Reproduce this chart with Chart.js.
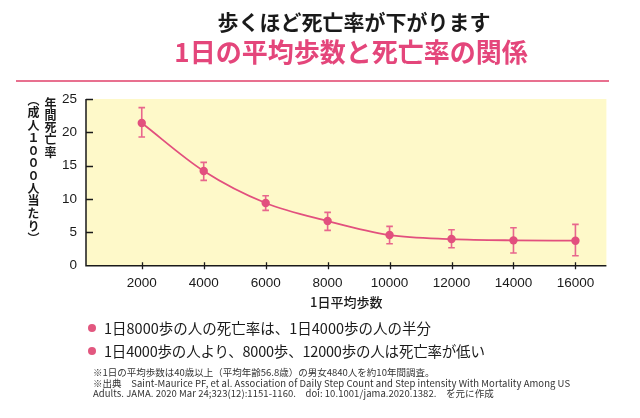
<!DOCTYPE html>
<html>
<head>
<meta charset="utf-8">
<script src="https://cdn.jsdelivr.net/npm/chart.js@4.4.1/dist/chart.umd.min.js"></script>
<style>
  html, body { margin: 0; padding: 0; background: #fff; }
  body { width: 640px; height: 418px; position: relative; overflow: hidden;
         font-family: "Noto Sans CJK JP", "Noto Sans", sans-serif; color: #1a1a1a; }
  #wrap { position: absolute; left: 0; top: 0; width: 640px; height: 418px; }
  .abs { position: absolute; white-space: nowrap; line-height: 1; }
  #t1 { left: 0; width: 708px; top: 11px; text-align: center; font-size: 21px; font-weight: 700; color: #1a1a1a; }
  #t2 { left: 0; width: 702px; top: 38px; text-align: center; font-size: 26px; font-weight: 700; color: #E4467B; }
  #sep { position: absolute; left: 16px; top: 80px; width: 593px; height: 2px; background: #E8708F; }
  .vt { writing-mode: vertical-rl; text-orientation: upright; font-size: 12px; font-weight: 700; line-height: 1; }
  #yt1 { left: 44px; top: 97px; letter-spacing: 0.3px; }
  #yt2 { left: 27px; top: 94px; letter-spacing: 0.6px; }
  .bl { font-size: 14.5px; color: #1a1a1a; }
  .dot { position: absolute; width: 8px; height: 8px; border-radius: 50%; background: #E2577F; }
  .nt { font-size: 9.5px; color: #333; }
</style>
</head>
<body>
<div id="wrap"><canvas id="c" width="640" height="418"></canvas></div>
<div class="abs" id="t1">歩くほど死亡率が下がります</div>
<div class="abs" id="t2">1日の平均歩数と死亡率の関係</div>
<div id="sep"></div>
<div class="abs vt" id="yt1">年間死亡率</div>
<div class="abs vt" id="yt2">（成人１０００人当たり）</div>
<div class="dot" style="left:88px; top:324px;"></div>
<div class="abs bl" style="left:104px; top:321px;">1日8000歩の人の死亡率は、1日4000歩の人の半分</div>
<div class="dot" style="left:88px; top:347px;"></div>
<div class="abs bl" style="left:104px; top:344px; letter-spacing:-0.2px;">1日4000歩の人より、8000歩、12000歩の人は死亡率が低い</div>
<div class="abs nt" style="left:93px; top:368px;">※1日の平均歩数は40歳以上（平均年齢56.8歳）の男女4840人を約10年間調査。</div>
<div class="abs nt" style="left:93px; top:379px; letter-spacing:0.05px;">※出典　Saint-Maurice PF, et al. Association of Daily Step Count and Step intensity With Mortality Among US</div>
<div class="abs nt" style="left:93px; top:389px; letter-spacing:0.05px;">Adults. JAMA. 2020 Mar 24;323(12):1151-1160.　doi: 10.1001/jama.2020.1382.　を元に作成</div>
<script>
// ---- data ----
const steps = [2000, 4000, 6000, 8000, 10000, 12000, 14000, 16000];
const deathRate = [21.4, 14.2, 9.4, 6.7, 4.6, 4.0, 3.8, 3.75];
const ciLower = [19.3, 12.8, 8.3, 5.3, 3.3, 2.7, 1.9, 1.5];
const ciUpper = [23.7, 15.5, 10.5, 8.0, 5.9, 5.4, 5.7, 6.2];
const xTickValues = [2000, 4000, 6000, 8000, 10000, 12000, 14000, 16000];
const yTickValues = [0, 5, 10, 15, 20, 25];

const PINK = '#E2507E';
const ERR = '#E8668D';
const BG = '#FEF9C9';
const AXIS = '#1a1a1a';

const bgPlugin = {
  id: 'bg',
  beforeDraw(chart) {
    const { ctx, chartArea: a } = chart;
    ctx.save();
    ctx.fillStyle = BG;
    ctx.fillRect(a.left, a.top, a.right - a.left, a.bottom - a.top);
    ctx.restore();
  }
};

const axesPlugin = {
  id: 'axesMarks',
  afterDraw(chart) {
    const { ctx, chartArea: a, scales: { x, y } } = chart;
    ctx.save();
    ctx.strokeStyle = AXIS;
    ctx.lineWidth = 1.5;
    ctx.beginPath();
    ctx.moveTo(a.left, a.top);
    ctx.lineTo(a.left, a.bottom);
    ctx.lineTo(a.right, a.bottom);
    ctx.stroke();
    ctx.lineWidth = 1.3;
    ctx.beginPath();
    yTickValues.forEach(v => {
      if (v === 0) return;
      const py = Math.round(y.getPixelForValue(v)) + 0.5;
      ctx.moveTo(a.left, py);
      ctx.lineTo(a.left + 7, py);
    });
    xTickValues.forEach(v => {
      const px = Math.round(x.getPixelForValue(v)) + 0.5;
      ctx.moveTo(px, a.bottom - 3.5);
      ctx.lineTo(px, a.bottom + 3.5);
    });
    ctx.stroke();
    ctx.restore();
  }
};

const errPlugin = {
  id: 'errbars',
  beforeDatasetsDraw(chart) {
    const { ctx, scales: { x, y } } = chart;
    ctx.save();
    ctx.strokeStyle = ERR;
    ctx.lineWidth = 1.6;
    steps.forEach((s, i) => {
      const px = x.getPixelForValue(s);
      const yl = y.getPixelForValue(ciLower[i]);
      const yu = y.getPixelForValue(ciUpper[i]);
      ctx.beginPath();
      ctx.moveTo(px, yl); ctx.lineTo(px, yu);
      ctx.moveTo(px - 3.3, yl); ctx.lineTo(px + 3.3, yl);
      ctx.moveTo(px - 3.3, yu); ctx.lineTo(px + 3.3, yu);
      ctx.stroke();
    });
    ctx.restore();
  }
};

const tickFont = { family: '"Liberation Sans", Arial, sans-serif', size: 13.5 };

new Chart(document.getElementById('c'), {
  type: 'line',
  data: {
    datasets: [{
      data: steps.map((s, i) => ({ x: s, y: deathRate[i] })),
      borderColor: PINK,
      backgroundColor: PINK,
      borderWidth: 1.8,
      pointRadius: 4.2,
      pointBorderWidth: 0,
      pointBackgroundColor: PINK,
      cubicInterpolationMode: 'monotone',
      fill: false
    }]
  },
  options: {
    responsive: false,
    animation: false,
    events: [],
    layout: { padding: { left: 0, right: 33.6, top: 99, bottom: 418 - 265.7 - 44 } },
    plugins: { legend: { display: false }, tooltip: { enabled: false }, title: { display: false } },
    scales: {
      x: {
        type: 'linear',
        min: 200, max: 17000,
        afterBuildTicks: s => { s.ticks = xTickValues.map(v => ({ value: v })); },
        afterFit: s => { s.height = 44; },
        grid: { display: false, drawTicks: false, tickLength: 0 },
        border: { display: false },
        ticks: { color: AXIS, font: tickFont, padding: 9, maxRotation: 0, autoSkip: false, callback: v => String(v) },
        title: { display: true, text: '1日平均歩数', color: AXIS,
                 font: { family: '"Noto Sans CJK JP", sans-serif', size: 13, weight: '500' }, padding: { top: 5, bottom: 0 } }
      },
      y: {
        min: 0, max: 25,
        afterBuildTicks: s => { s.ticks = yTickValues.map(v => ({ value: v })); },
        afterFit: s => { s.width = 86; },
        grid: { display: false, drawTicks: false, tickLength: 0 },
        border: { display: false },
        ticks: { color: AXIS, font: tickFont, padding: 9 }
      }
    }
  },
  plugins: [bgPlugin, errPlugin, axesPlugin]
});
</script>
</body>
</html>
